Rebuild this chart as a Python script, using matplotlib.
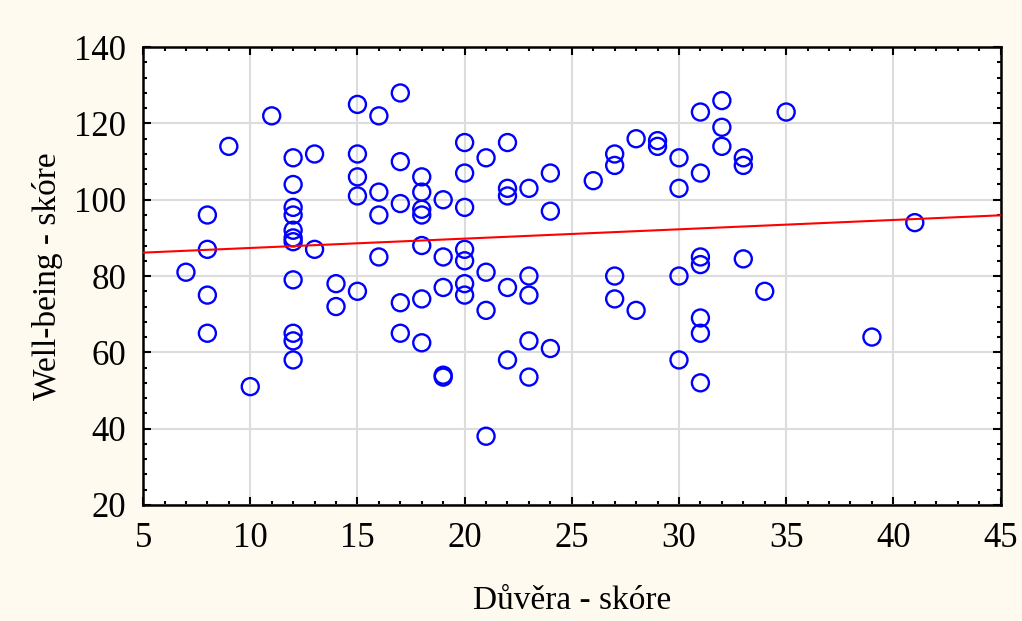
import numpy as np
import matplotlib
matplotlib.use("Agg")
import matplotlib.pyplot as plt
from matplotlib.ticker import MultipleLocator

# Důvěra - skóre (x) a Well-being - skóre (y)
duvera = [7,
          8, 8, 8, 8,
          9, 10, 11,
          12, 12, 12, 12, 12, 12, 12, 12, 12, 12, 12,
          13, 13, 14, 14,
          15, 15, 15, 15, 15,
          16, 16, 16, 16,
          17, 17, 17, 17, 17,
          18, 18, 18, 18, 18, 18, 18,
          19, 19, 19, 19, 19,
          20, 20, 20, 20, 20, 20, 20,
          21, 21, 21, 21,
          22, 22, 22, 22, 22,
          23, 23, 23, 23, 23,
          24, 24, 24,
          26,
          27, 27, 27, 27,
          28, 28, 29, 29,
          30, 30, 30, 30,
          31, 31, 31, 31, 31, 31, 31,
          32, 32, 32,
          33, 33, 33,
          34, 35, 39, 41]

wellbeing = [81,
             96, 87, 75, 65,
             114, 51, 122,
             111, 104, 98, 96, 92, 90, 89, 79, 65, 63, 58,
             112, 87, 78, 72,
             125, 112, 106, 101, 76,
             122, 102, 96, 85,
             128, 110, 99, 73, 65,
             106, 102, 97.5, 96, 88, 74, 62.5,
             100, 85, 77, 54, 53.5,
             115, 107, 98, 87, 84, 78, 75,
             111, 81, 71, 38,
             115, 103, 101, 77, 58,
             103, 80, 75, 63, 53.5,
             107, 97, 61,
             105,
             112, 109, 80, 74,
             116, 71, 115.5, 114,
             111, 103, 80, 58,
             123, 107, 85, 83, 69, 65, 52,
             126, 119, 114,
             111, 109, 84.5,
             76, 123, 64, 94]


def plot_scatter():
    x = np.array(duvera, dtype=float)
    y = np.array(wellbeing, dtype=float)

    plt.rcParams['font.family'] = ['Liberation Serif', 'DejaVu Serif']

    fig = plt.figure(figsize=(10.22, 6.21), dpi=100, facecolor='#fffaf0')
    ax = fig.add_axes([0.140, 0.187, 0.839, 0.737])
    ax.set_facecolor('white')

    # body
    ax.scatter(x, y, s=150, facecolors='none', edgecolors='#0000ff',
               linewidths=1.7, zorder=3)

    # regresni primka
    slope, intercept = np.polyfit(x, y, 1)
    xs = np.array([5, 45])
    ax.plot(xs, intercept + slope * xs, color='#ff0000', lw=1.5, zorder=4)

    ax.set_xlim(5, 45)
    ax.set_ylim(20, 140)
    ax.xaxis.set_major_locator(MultipleLocator(5))
    ax.xaxis.set_minor_locator(MultipleLocator(1))
    ax.yaxis.set_major_locator(MultipleLocator(20))
    ax.yaxis.set_minor_locator(MultipleLocator(4))

    ax.grid(True, which='major', color='#dcdcdc', lw=1.5, zorder=0)
    ax.set_axisbelow(True)
    ax.tick_params(which='both', direction='in', top=True, right=True,
                   labelsize=25, width=1.5)
    ax.tick_params(which='major', length=6, pad=12)
    ax.tick_params(which='minor', length=3)
    for sp in ax.spines.values():
        sp.set_linewidth(1.8)

    ax.set_xlabel('Důvěra - skóre', fontsize=24, labelpad=22)
    ax.set_ylabel('Well-being - skóre', fontsize=24, labelpad=8)

    fig.savefig('out.png', dpi=100, facecolor=fig.get_facecolor())


if __name__ == "__main__":
    plot_scatter()
